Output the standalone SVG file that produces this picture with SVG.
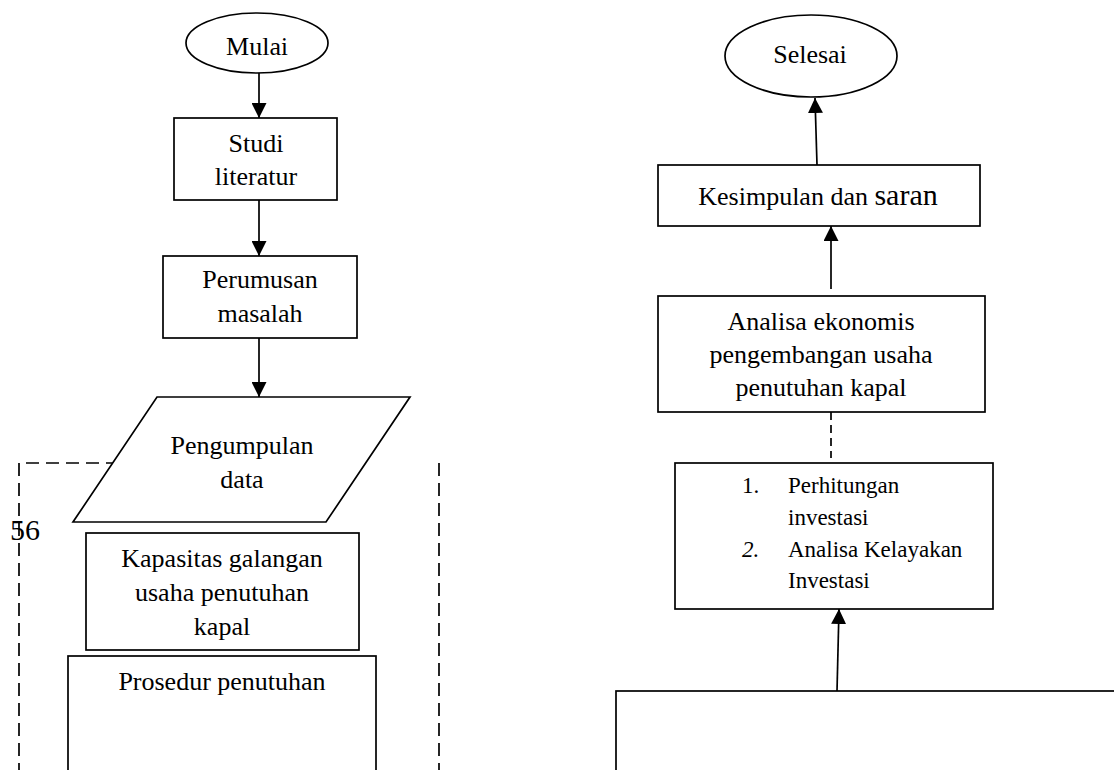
<svg xmlns="http://www.w3.org/2000/svg" width="1114" height="770" viewBox="0 0 1114 770">
<style>
.s{fill:#fff;stroke:#000;stroke-width:1.7}
.t{font-family:"Liberation Serif","Times New Roman",serif;font-size:26px;fill:#000;text-anchor:middle}
.l{font-family:"Liberation Serif","Times New Roman",serif;font-size:23px;fill:#000}
.c{stroke:#000;stroke-width:1.7;fill:none}
.d{stroke:#000;stroke-width:1.7;fill:none;stroke-dasharray:13 7}
</style>
<defs>
<marker id="ah" viewBox="0 0 10 10" refX="10" refY="5" markerWidth="15" markerHeight="15" markerUnits="userSpaceOnUse" orient="auto">
<path d="M0,0 L10,5 L0,10 z" fill="#000"/>
</marker>
</defs>
<rect width="1114" height="770" fill="#fff"/>
<g id="frame">
<path class="d" d="M119 463 H19 V770"/>
<path class="d" d="M439 463 V770"/>
<text x="10" y="540" font-family="Liberation Serif, serif" font-size="30" fill="#000">56</text>
</g>
<g id="mulai">
<ellipse class="s" cx="257" cy="43" rx="71" ry="30"/>
<text class="t" x="257" y="55" font-size="22">Mula<tspan font-size="25">i</tspan></text>
</g>
<g id="studi">
<rect class="s" x="174" y="118" width="163" height="82"/>
<text class="t" x="256" y="152">Studi</text>
<text class="t" x="256" y="185">literatur</text>
</g>
<g id="perumusan">
<rect class="s" x="163" y="256" width="194" height="82"/>
<text class="t" x="260" y="288">Perumusan</text>
<text class="t" x="260" y="322">masalah</text>
</g>
<g id="pengumpulan">
<polygon class="s" points="157,397 410,397 326,522 73,522"/>
<text class="t" x="242" y="454">Pengumpulan</text>
<text class="t" x="242" y="488">data</text>
</g>
<g id="kapasitas">
<rect class="s" x="86" y="533" width="273" height="117"/>
<text class="t" x="222" y="567">Kapasitas galangan</text>
<text class="t" x="222" y="601">usaha penutuhan</text>
<text class="t" x="222" y="635">kapal</text>
</g>
<g id="prosedur">
<rect class="s" x="68" y="656" width="308" height="130"/>
<text class="t" x="222" y="690">Prosedur penutuhan</text>
</g>
<g id="selesai">
<ellipse class="s" cx="811" cy="56" rx="86" ry="41"/>
<text class="t" x="810" y="63" font-size="23">Selesa<tspan font-size="26">i</tspan></text>
</g>
<g id="kesimpulan">
<rect class="s" x="658" y="165" width="322" height="61"/>
<text class="t" x="818" y="205">Kesimpulan dan <tspan font-size="30">saran</tspan></text>
</g>
<g id="analisa">
<rect class="s" x="658" y="296" width="327" height="116"/>
<text class="t" x="821" y="330">Analisa ekonomis</text>
<text class="t" x="821" y="363">pengembangan usaha</text>
<text class="t" x="821" y="396">penutuhan kapal</text>
</g>
<g id="perhitungan">
<rect class="s" x="675" y="463" width="318" height="146"/>
<text class="l" x="742" y="493">1.</text>
<text class="l" x="788" y="493">Perhitungan</text>
<text class="l" x="788" y="525">investasi</text>
<text class="l" x="742" y="557" font-style="italic">2.</text>
<text class="l" x="788" y="557">Analisa Kelayakan</text>
<text class="l" x="788" y="588">Investasi</text>
</g>
<g id="bottombox">
<rect class="s" x="616" y="691" width="520" height="100"/>
</g>
<g id="connectors">
<line class="c" x1="259" y1="73" x2="259" y2="118" marker-end="url(#ah)"/>
<line class="c" x1="259" y1="200" x2="259" y2="256" marker-end="url(#ah)"/>
<line class="c" x1="259" y1="338" x2="259" y2="397" marker-end="url(#ah)"/>
<line class="c" x1="817" y1="165" x2="815" y2="98" marker-end="url(#ah)"/>
<line class="c" x1="831" y1="289" x2="831" y2="226" marker-end="url(#ah)"/>
<line class="c" x1="831" y1="412" x2="831" y2="458" stroke-dasharray="8 5"/>
<line class="c" x1="837" y1="691" x2="839" y2="609" marker-end="url(#ah)"/>
</g>
</svg>
